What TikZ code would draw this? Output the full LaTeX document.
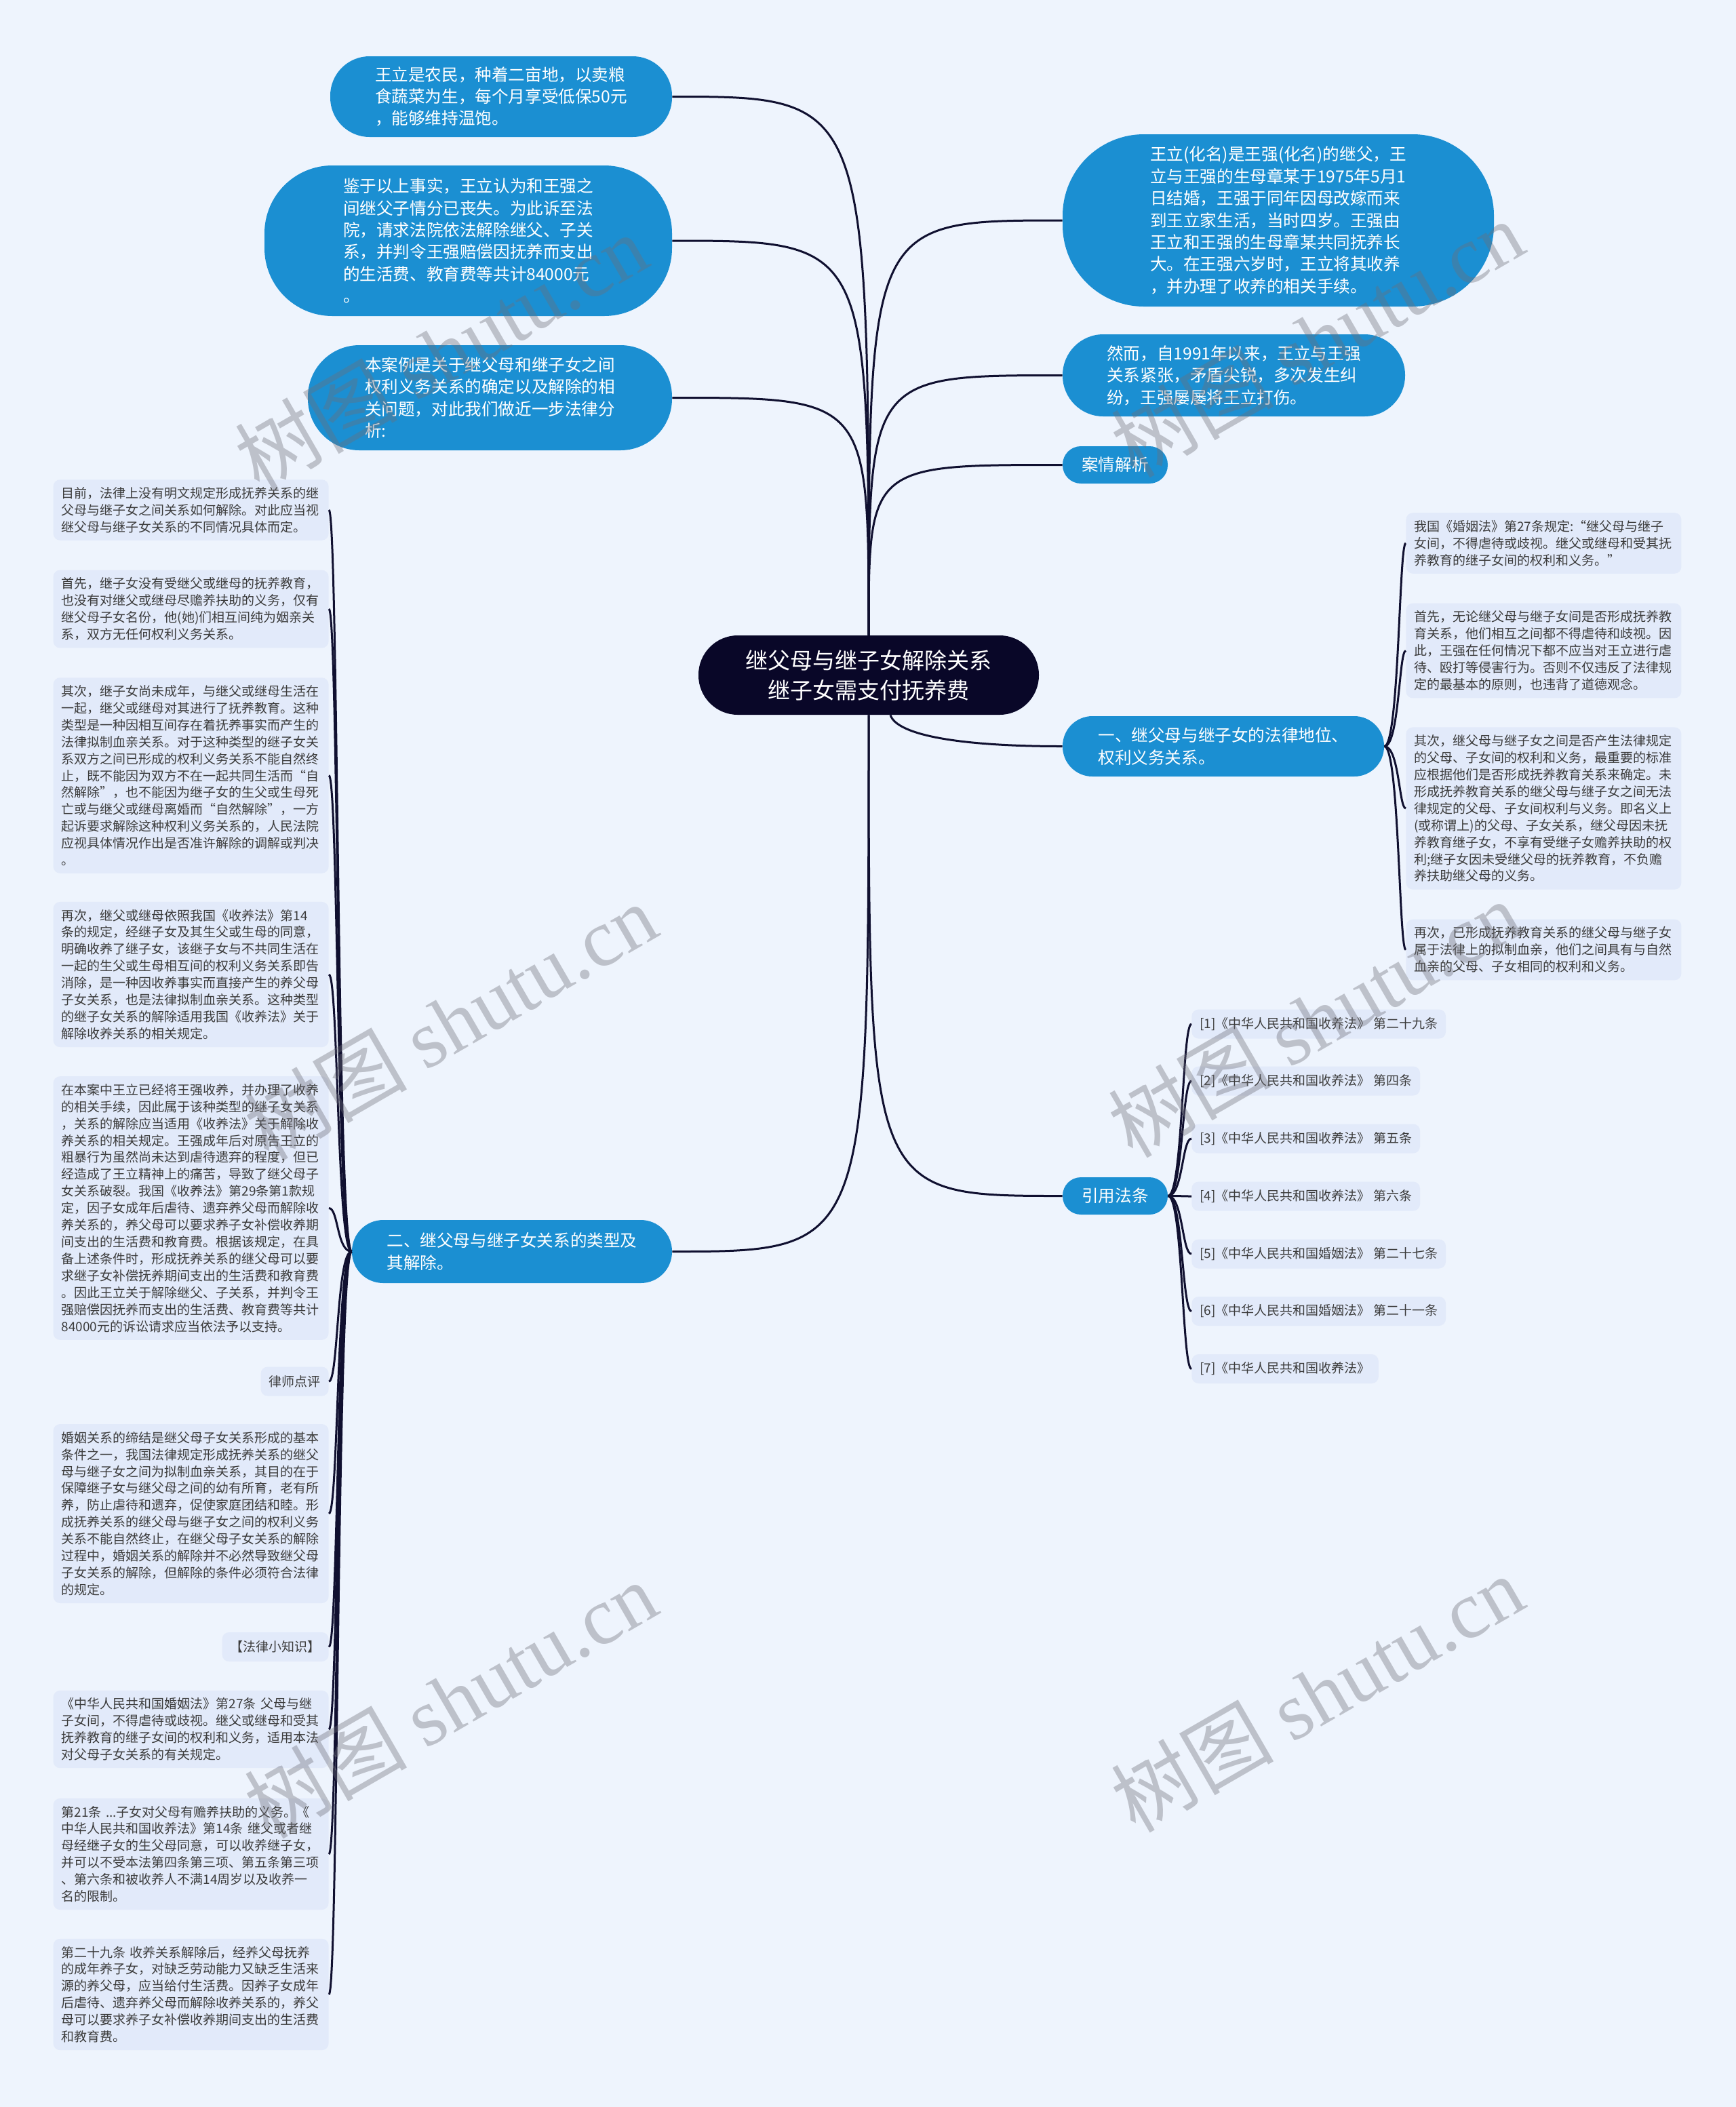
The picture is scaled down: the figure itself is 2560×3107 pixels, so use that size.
\documentclass[tikz,border=0pt]{standalone}
\usepackage{fontspec}
\setmainfont{Noto Sans CJK SC}
\newfontfamily\wmlatin{Liberation Serif}
\usetikzlibrary{calc}
\definecolor{bgc}{RGB}{238,244,253}
\definecolor{bblue}{RGB}{27,143,210}
\definecolor{rootc}{RGB}{9,7,40}
\definecolor{linec}{RGB}{16,16,48}
\definecolor{leaff}{RGB}{226,234,250}
\definecolor{leaft}{RGB}{60,60,60}
\definecolor{wmc}{RGB}{110,110,120}
\tikzset{
  conn/.style={draw=linec, line width=1.5pt},
  rootn/.style={fill=rootc, text=white, font=\fontsize{16.5}{22}\selectfont, align=center, inner sep=0pt},
  bubble/.style={fill=bblue, text=white, font=\fontsize{12.3}{16.2}\selectfont, align=left, inner sep=0pt},
  leafbase/.style={fill=leaff, text=leaft, font=\fontsize{9.5}{12.46}\selectfont, align=left, inner xsep=6pt, inner ysep=5.5pt, rounded corners=5pt},
  leaf/.style={leafbase, text width=191pt},
  refleaf/.style={leafbase, minimum height=21.5pt},
  wm/.style={text=wmc, opacity=0.38, font=\fontsize{60}{60}\selectfont, rotate=30, inner sep=0pt}
}
\begin{document}
\begin{tikzpicture}[x=0.5pt,y=-0.5pt]
\useasboundingbox (0,0) rectangle (2560,3107);
\fill[bgc] (0,0) rectangle (2560,3107);

% root
\node[rootn, minimum width=251pt, minimum height=58.5pt, rounded corners=29pt] (root) at (1281,995.5) {继父母与继子女解除关系\\继子女需支付抚养费};

% blue bubbles
\node[bubble, minimum width=252pt, minimum height=59.5pt, rounded corners=29pt] (a1) at (739,142.5) {王立是农民，种着二亩地，以卖粮\\食蔬菜为生，每个月享受低保50元\\，能够维持温饱。};
\node[bubble, minimum width=300.5pt, minimum height=111pt, rounded corners=50pt] (a2) at (690.5,355) {鉴于以上事实，王立认为和王强之\\间继父子情分已丧失。为此诉至法\\院，请求法院依法解除继父、子关\\系，并判令王强赔偿因抚养而支出\\的生活费、教育费等共计84000元\\。};
\node[bubble, minimum width=268.5pt, minimum height=77.5pt, rounded corners=38pt] (a3) at (722.5,586.5) {本案例是关于继父母和继子女之间\\权利义务关系的确定以及解除的相\\关问题，对此我们做近一步法律分\\析:};
\node[bubble, minimum width=318pt, minimum height=127pt, rounded corners=60pt] (b1) at (1885,325) {王立(化名)是王强(化名)的继父，王\\立与王强的生母章某于1975年5月1\\日结婚，王强于同年因母改嫁而来\\到王立家生活，当时四岁。王强由\\王立和王强的生母章某共同抚养长\\大。在王强六岁时，王立将其收养\\，并办理了收养的相关手续。};
\node[bubble, minimum width=252.5pt, minimum height=60.5pt, rounded corners=30pt] (b2) at (1819.5,553.5) {然而，自1991年以来，王立与王强\\关系紧张，矛盾尖锐，多次发生纠\\纷，王强屡屡将王立打伤。};
\node[bubble, minimum width=77.5pt, minimum height=27.5pt, rounded corners=13.5pt] (b3) at (1644.5,685.5) {案情解析};
\node[bubble, minimum width=237pt, minimum height=44.5pt, rounded corners=22pt] (b4) at (1804,1100.5) {一、继父母与继子女的法律地位、\\权利义务关系。};
\node[bubble, minimum width=77.5pt, minimum height=27.5pt, rounded corners=13.5pt] (b5) at (1644.5,1763.5) {引用法条};
\node[bubble, minimum width=236pt, minimum height=46.5pt, rounded corners=23pt] (l1) at (755,1845.5) {二、继父母与继子女关系的类型及\\其解除。};

% right leaves of b4
\node[leaf, anchor=west] (r1) at (2073,801) {我国《婚姻法》第27条规定:“继父母与继子\\女间，不得虐待或歧视。继父或继母和受其抚\\养教育的继子女间的权利和义务。”};
\node[leaf, anchor=west] (r2) at (2073,959.5) {首先，无论继父母与继子女间是否形成抚养教\\育关系，他们相互之间都不得虐待和歧视。因\\此，王强在任何情况下都不应当对王立进行虐\\待、殴打等侵害行为。否则不仅违反了法律规\\定的最基本的原则，也违背了道德观念。};
\node[leaf, anchor=west] (r3) at (2073,1192) {其次，继父母与继子女之间是否产生法律规定\\的父母、子女间的权利和义务，最重要的标准\\应根据他们是否形成抚养教育关系来确定。未\\形成抚养教育关系的继父母与继子女之间无法\\律规定的父母、子女间权利与义务。即名义上\\(或称谓上)的父母、子女关系，继父母因未抚\\养教育继子女，不享有受继子女赡养扶助的权\\利;继子女因未受继父母的抚养教育，不负赡\\养扶助继父母的义务。};
\node[leaf, anchor=west] (r4) at (2073,1400.5) {再次，已形成抚养教育关系的继父母与继子女\\属于法律上的拟制血亲，他们之间具有与自然\\血亲的父母、子女相同的权利和义务。};

% references
\node[refleaf, anchor=west] (f1) at (1757,1510) {[1]《中华人民共和国收养法》 第二十九条};
\node[refleaf, anchor=west] (f2) at (1757,1594) {[2]《中华人民共和国收养法》 第四条};
\node[refleaf, anchor=west] (f3) at (1757,1679) {[3]《中华人民共和国收养法》 第五条};
\node[refleaf, anchor=west] (f4) at (1757,1764) {[4]《中华人民共和国收养法》 第六条};
\node[refleaf, anchor=west] (f5) at (1757,1849) {[5]《中华人民共和国婚姻法》 第二十七条};
\node[refleaf, anchor=west] (f6) at (1757,1933.5) {[6]《中华人民共和国婚姻法》 第二十一条};
\node[refleaf, anchor=west] (f7) at (1757,2018.5) {[7]《中华人民共和国收养法》};

% left leaves of l1
\node[leaf, anchor=east] (lf1) at (485,752) {目前，法律上没有明文规定形成抚养关系的继\\父母与继子女之间关系如何解除。对此应当视\\继父母与继子女关系的不同情况具体而定。};
\node[leaf, anchor=east] (lf2) at (485,898) {首先，继子女没有受继父或继母的抚养教育，\\也没有对继父或继母尽赡养扶助的义务，仅有\\继父母子女名份，他(她)们相互间纯为姻亲关\\系，双方无任何权利义务关系。};
\node[leaf, anchor=east] (lf3) at (485,1143.5) {其次，继子女尚未成年，与继父或继母生活在\\一起，继父或继母对其进行了抚养教育。这种\\类型是一种因相互间存在着抚养事实而产生的\\法律拟制血亲关系。对于这种类型的继子女关\\系双方之间已形成的权利义务关系不能自然终\\止，既不能因为双方不在一起共同生活而“自\\然解除”，也不能因为继子女的生父或生母死\\亡或与继父或继母离婚而“自然解除”，一方\\起诉要求解除这种权利义务关系的，人民法院\\应视具体情况作出是否准许解除的调解或判决\\。};
\node[leaf, anchor=east] (lf4) at (485,1437) {再次，继父或继母依照我国《收养法》第14\\条的规定，经继子女及其生父或生母的同意，\\明确收养了继子女，该继子女与不共同生活在\\一起的生父或生母相互间的权利义务关系即告\\消除，是一种因收养事实而直接产生的养父母\\子女关系，也是法律拟制血亲关系。这种类型\\的继子女关系的解除适用我国《收养法》关于\\解除收养关系的相关规定。};
\node[leaf, anchor=east] (lf5) at (485,1781.5) {在本案中王立已经将王强收养，并办理了收养\\的相关手续，因此属于该种类型的继子女关系\\，关系的解除应当适用《收养法》关于解除收\\养关系的相关规定。王强成年后对原告王立的\\粗暴行为虽然尚未达到虐待遗弃的程度，但已\\经造成了王立精神上的痛苦，导致了继父母子\\女关系破裂。我国《收养法》第29条第1款规\\定，因子女成年后虐待、遗弃养父母而解除收\\养关系的，养父母可以要求养子女补偿收养期\\间支出的生活费和教育费。根据该规定，在具\\备上述条件时，形成抚养关系的继父母可以要\\求继子女补偿抚养期间支出的生活费和教育费\\。因此王立关于解除继父、子关系，并判令王\\强赔偿因抚养而支出的生活费、教育费等共计\\84000元的诉讼请求应当依法予以支持。};
\node[leafbase, anchor=east, minimum height=21.5pt] (lf6) at (485,2037) {律师点评};
\node[leaf, anchor=east] (lf7) at (485,2232) {婚姻关系的缔结是继父母子女关系形成的基本\\条件之一，我国法律规定形成抚养关系的继父\\母与继子女之间为拟制血亲关系，其目的在于\\保障继子女与继父母之间的幼有所育，老有所\\养，防止虐待和遗弃，促使家庭团结和睦。形\\成抚养关系的继父母与继子女之间的权利义务\\关系不能自然终止，在继父母子女关系的解除\\过程中，婚姻关系的解除并不必然导致继父母\\子女关系的解除，但解除的条件必须符合法律\\的规定。};
\node[leafbase, anchor=east, minimum height=21.5pt] (lf8) at (485,2428.5) {【法律小知识】};
\node[leaf, anchor=east] (lf9) at (485,2550) {《中华人民共和国婚姻法》第27条 父母与继\\子女间，不得虐待或歧视。继父或继母和受其\\抚养教育的继子女间的权利和义务，适用本法\\对父母子女关系的有关规定。};
\node[leaf, anchor=east] (lf10) at (485,2734) {第21条 ...子女对父母有赡养扶助的义务。《\\中华人民共和国收养法》第14条 继父或者继\\母经继子女的生父母同意，可以收养继子女，\\并可以不受本法第四条第三项、第五条第三项\\、第六条和被收养人不满14周岁以及收养一\\名的限制。};
\node[leaf, anchor=east] (lf11) at (485,2941) {第二十九条 收养关系解除后，经养父母抚养\\的成年养子女，对缺乏劳动能力又缺乏生活来\\源的养父母，应当给付生活费。因养子女成年\\后虐待、遗弃养父母而解除收养关系的，养父\\母可以要求养子女补偿收养期间支出的生活费\\和教育费。};

% connectors from root
\foreach \n in {a1,a2,a3}
  \draw[conn] (root.north) .. controls (root.north |- \n.east) .. (\n.east);
\foreach \n in {b1,b2,b3}
  \draw[conn] (root.north) .. controls (root.north |- \n.west) .. (\n.west);
\draw[conn] (root.south) .. controls (root.south |- l1.east) .. (l1.east);
\draw[conn] (root.south) .. controls (root.south |- b5.west) .. (b5.west);
\coordinate (rs) at ($(root.south)+(32,0)$);
\draw[conn] (rs) .. controls +(10,30) and +(-150,0) .. (b4.west);

% bracket connectors
\foreach \n in {r1,r2,r3,r4}
  \draw[conn] (b4.east) .. controls +(22,0) and +(-10,0) .. (\n.west);
\foreach \n in {f1,f2,f3,f4,f5,f6,f7}
  \draw[conn] (b5.east) .. controls +(22,0) and +(-14,0) .. (\n.west);
\foreach \n in {lf1,lf2,lf3,lf4,lf5,lf6,lf7,lf8,lf9,lf10,lf11}
  \draw[conn] (l1.west) .. controls +(-22,0) and +(14,0) .. (\n.east);

% watermarks
\node[wm] (w1) at (650,519) {树图 {\wmlatin shutu.cn}};
\node[wm] (w2) at (1942,499) {树图 {\wmlatin shutu.cn}};
\node[wm] (w3) at (664,1506) {树图 {\wmlatin shutu.cn}};
\node[wm] (w4) at (1938,1502) {树图 {\wmlatin shutu.cn}};
\node[wm] (w5) at (664,2506) {树图 {\wmlatin shutu.cn}};
\node[wm] (w6) at (1942,2497) {树图 {\wmlatin shutu.cn}};
\end{tikzpicture}
\end{document}
